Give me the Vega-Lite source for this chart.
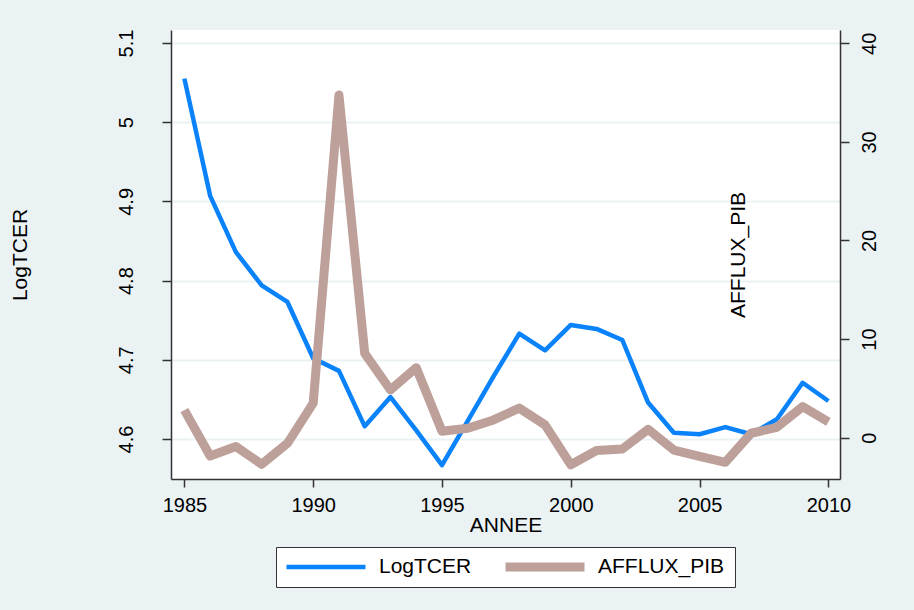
{
  "$schema": "https://vega.github.io/schema/vega-lite/v6.json",
  "width": 669,
  "height": 449,
  "autosize": {"type": "none"},
  "padding": {"left": 171, "top": 30, "right": 74, "bottom": 131},
  "background": "#EAF2F3",
  "config": {
    "font": "Liberation Sans",
    "view": {"stroke": null, "fill": "white"},
    "axis": {"labelColor": "black", "titleColor": "black", "titleFontWeight": "normal", "domainColor": "#333333", "tickColor": "#333333", "domainWidth": 1.5, "tickWidth": 1.5}
  },
  "data": {"values": [
    {"year": 1985, "LogTCER": 5.055, "AFFLUX_PIB": 2.8},
    {"year": 1986, "LogTCER": 4.907, "AFFLUX_PIB": -1.86},
    {"year": 1987, "LogTCER": 4.836, "AFFLUX_PIB": -0.9},
    {"year": 1988, "LogTCER": 4.794, "AFFLUX_PIB": -2.7},
    {"year": 1989, "LogTCER": 4.773, "AFFLUX_PIB": -0.57},
    {"year": 1990, "LogTCER": 4.702, "AFFLUX_PIB": 3.5},
    {"year": 1991, "LogTCER": 4.686, "AFFLUX_PIB": 34.75},
    {"year": 1992, "LogTCER": 4.616, "AFFLUX_PIB": 8.56},
    {"year": 1993, "LogTCER": 4.653, "AFFLUX_PIB": 4.84},
    {"year": 1994, "LogTCER": 4.611, "AFFLUX_PIB": 7.1},
    {"year": 1995, "LogTCER": 4.567, "AFFLUX_PIB": 0.65},
    {"year": 1996, "LogTCER": 4.623, "AFFLUX_PIB": 0.95},
    {"year": 1997, "LogTCER": 4.679, "AFFLUX_PIB": 1.8},
    {"year": 1998, "LogTCER": 4.733, "AFFLUX_PIB": 3.0},
    {"year": 1999, "LogTCER": 4.712, "AFFLUX_PIB": 1.3},
    {"year": 2000, "LogTCER": 4.744, "AFFLUX_PIB": -2.75},
    {"year": 2001, "LogTCER": 4.739, "AFFLUX_PIB": -1.3},
    {"year": 2002, "LogTCER": 4.725, "AFFLUX_PIB": -1.15},
    {"year": 2003, "LogTCER": 4.646, "AFFLUX_PIB": 0.85},
    {"year": 2004, "LogTCER": 4.608, "AFFLUX_PIB": -1.25},
    {"year": 2005, "LogTCER": 4.606, "AFFLUX_PIB": -1.9},
    {"year": 2006, "LogTCER": 4.615, "AFFLUX_PIB": -2.5},
    {"year": 2007, "LogTCER": 4.606, "AFFLUX_PIB": 0.45},
    {"year": 2008, "LogTCER": 4.625, "AFFLUX_PIB": 1.05},
    {"year": 2009, "LogTCER": 4.671, "AFFLUX_PIB": 3.15},
    {"year": 2010, "LogTCER": 4.648, "AFFLUX_PIB": 1.6}
  ]},
  "encoding": {
    "x": {
      "field": "year", "type": "quantitative",
      "scale": {"domain": [1984.48, 2010.45], "nice": false, "zero": false},
      "axis": {"values": [1985, 1990, 1995, 2000, 2005, 2010], "format": "d", "labelFontSize": 20, "tickSize": 8, "labelPadding": 8, "grid": false, "title": "ANNEE", "titleFontSize": 21, "titlePadding": -1}
    }
  },
  "layer": [
    {
      "mark": {"type": "line", "strokeWidth": 4.5, "strokeJoin": "round", "strokeCap": "butt"},
      "encoding": {
        "y": {
          "field": "LogTCER", "type": "quantitative",
          "scale": {"domain": [4.5495, 5.1164], "nice": false, "zero": false},
          "axis": {"values": [4.6, 4.7, 4.8, 4.9, 5, 5.1], "format": ".1~f", "labelFontSize": 20, "labelAngle": -90, "labelAlign": "center", "labelBaseline": "alphabetic", "labelPadding": 30, "tickSize": 9, "grid": true, "gridColor": "#EAF2F3", "gridWidth": 2, "title": "LogTCER", "titleFontSize": 21, "titleAngle": -90, "titleX": -145, "titleY": 224.5, "titleAlign": "center", "titleBaseline": "alphabetic"}
        },
        "color": {
          "datum": "LogTCER", "type": "nominal",
          "scale": {"domain": ["LogTCER", "AFFLUX_PIB"], "range": ["#0A82FA", "#BDA09A"]},
          "legend": {
            "title": null, "orient": "none", "legendX": 105, "legendY": 517, "direction": "horizontal",
            "fillColor": "white", "strokeColor": "#333333", "padding": 10,
            "symbolType": "stroke", "symbolSize": 6241, "clipHeight": 20, "symbolOffset": 29.5,
            "labelFontSize": 21, "labelColor": "black", "labelOffset": 42.5, "columnPadding": 33,
            "encode": {"symbols": {"update": {"strokeWidth": {"signal": "datum.value === 'LogTCER' ? 4.5 : 9"}}}}
          }
        }
      }
    },
    {
      "mark": {"type": "line", "strokeWidth": 9, "strokeJoin": "round", "strokeCap": "butt"},
      "encoding": {
        "y": {
          "field": "AFFLUX_PIB", "type": "quantitative",
          "scale": {"domain": [-4.19, 41.35], "nice": false, "zero": false},
          "axis": {"orient": "right", "values": [0, 10, 20, 30, 40], "format": "d", "labelFontSize": 20, "labelAngle": -90, "labelAlign": "center", "labelBaseline": "alphabetic", "labelPadding": 26, "tickSize": 9, "grid": false, "title": "AFFLUX_PIB", "titleFontSize": 21, "titleAngle": -90, "titleX": -96, "titleY": 224.5, "titleAlign": "center", "titleBaseline": "alphabetic"}
        },
        "color": {"datum": "AFFLUX_PIB", "type": "nominal"}
      }
    }
  ],
  "resolve": {"scale": {"y": "independent"}}
}
